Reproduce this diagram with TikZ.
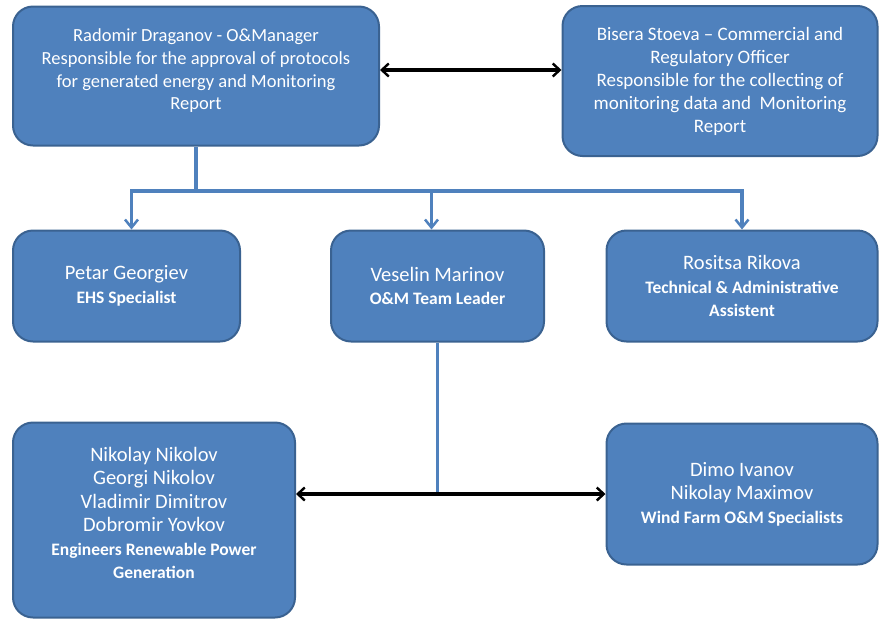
\documentclass[tikz,border=0pt]{standalone}
\usepackage{fontspec}
\setmainfont{Carlito}
\usetikzlibrary{arrows.meta}

\definecolor{boxblue}{HTML}{4F81BD}
\definecolor{edgeblue}{HTML}{3A6291}
\newcommand{\rolefont}{\bfseries\fontsize{17.5}{23.5}\selectfont}

\tikzset{
  staffbox/.style={draw=edgeblue,line width=2pt,fill=boxblue,rounded corners=20pt,
    text=white,align=center,inner sep=2pt,font=\fontsize{18.5}{22.7}\selectfont},
  namebox/.style={staffbox,font=\fontsize{20.5}{23.5}\selectfont},
  treeline/.style={draw=boxblue,line width=3.5pt},
  treearrow/.style={treeline,-{Straight Barb[length=8pt,width=13pt,line width=2.5pt]}},
  peerarrow/.style={draw=black,line width=3.3pt,{Straight Barb[length=7pt,width=13pt,line width=2.4pt]}-{Straight Barb[length=7pt,width=13pt,line width=2.4pt]}}
}

\begin{document}
\begin{tikzpicture}[x=1pt,y=-1pt]
\useasboundingbox (0,0) rectangle (880,622);

% top row
\node (manager) [staffbox,text depth=13pt,minimum width=366pt,minimum height=139pt] at (196,76)
  {Radomir Draganov - O\&Manager\\Responsible for the approval of protocols\\for generated energy and Monitoring\\Report};
\node (officer) [staffbox,font=\fontsize{19}{23}\selectfont,minimum width=315pt,minimum height=150pt] at (720,81)
  {Bisera Stoeva -- Commercial and\\Regulatory Officer\\Responsible for the collecting of\\monitoring data and\ \ Monitoring\\Report};

% middle row
\node (ehs) [namebox,minimum width=227pt,minimum height=111pt] at (126.5,286)
  {Petar Georgiev\\{\rolefont EHS Specialist}};
\node (leader) [namebox,minimum width=213pt,minimum height=111pt] at (437.5,286)
  {Veselin Marinov\\{\rolefont O\&M Team Leader}};
\node (assist) [namebox,minimum width=271pt,minimum height=111pt] at (742,286)
  {Rositsa Rikova\\{\rolefont Technical \& Administrative}\\{\rolefont Assistent}};

% bottom row
\node (engineers) [namebox,text depth=14pt,minimum width=282pt,minimum height=195pt] at (154,520)
  {Nikolay Nikolov\\Georgi Nikolov\\Vladimir Dimitrov\\Dobromir Yovkov\\{\rolefont Engineers Renewable Power}\\{\rolefont Generation}};
\node (wind) [namebox,minimum width=271pt,minimum height=141pt] at (742,494)
  {Dimo Ivanov\\Nikolay Maximov\\{\rolefont Wind Farm O\&M Specialists}};

\coordinate (split) at (196,191);
\coordinate (meet) at (leader.south |- wind.west);

% connectors
\draw[peerarrow] (manager.east |- 0,70) -- (officer.west |- 0,70);
\draw[treeline] (manager.south) -- (split);
\draw[treearrow] (split) -| ([xshift=5pt]ehs.north);
\draw[treearrow] (split) -| ([xshift=-6pt]leader.north);
\draw[treearrow] (split) -| (assist.north);
\draw[treeline] (leader.south) -- (meet);
\draw[peerarrow] (engineers.east |- meet) -- (wind.west);
\end{tikzpicture}
\end{document}
